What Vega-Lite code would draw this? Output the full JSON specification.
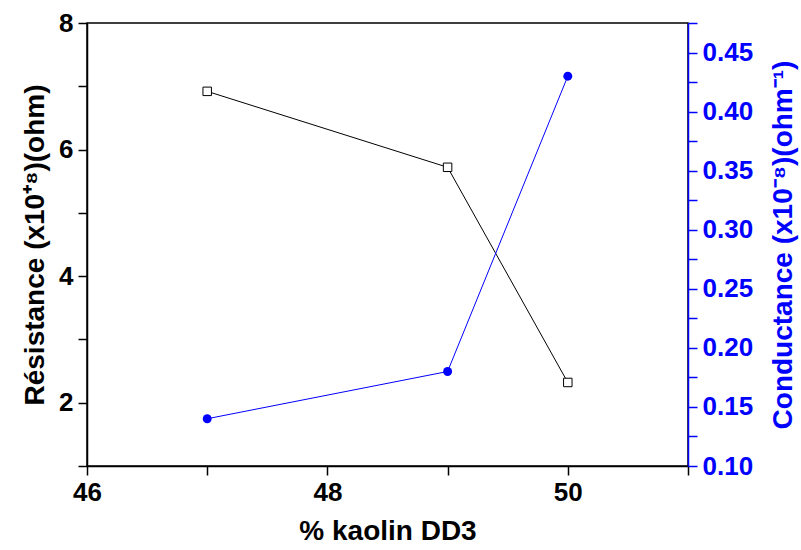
{
  "$schema": "https://vega.github.io/schema/vega-lite/v6.json",
  "width": 601,
  "height": 443,
  "autosize": {"type": "none"},
  "padding": {"left": 87, "top": 23, "right": 113, "bottom": 84},
  "background": "white",
  "config": {
    "view": {"stroke": "black", "strokeWidth": 1.5},
    "font": "Liberation Sans",
    "axis": {
      "labelFont": "Liberation Sans",
      "titleFont": "Liberation Sans",
      "labelFontWeight": "bold",
      "titleFontWeight": "bold",
      "labelFontSize": 26,
      "titleFontSize": 28,
      "grid": false,
      "domainWidth": 1.5,
      "tickWidth": 1.5,
      "tickSize": 9,
      "labelOverlap": false,
      "labelBound": false,
      "labelFlush": false
    }
  },
  "datasets": {
    "res": [
      {"kaolin": 47, "resistance": 6.92},
      {"kaolin": 49, "resistance": 5.72},
      {"kaolin": 50, "resistance": 2.32}
    ],
    "cond": [
      {"kaolin": 47, "conductance": 0.14},
      {"kaolin": 49, "conductance": 0.18},
      {"kaolin": 50, "conductance": 0.43}
    ]
  },
  "layer": [
    {
      "data": {"name": "res"},
      "encoding": {
        "x": {
          "field": "kaolin",
          "type": "quantitative",
          "scale": {"domain": [46, 51], "nice": false, "zero": false},
          "axis": {
            "values": [46, 47, 48, 49, 50, 51],
            "format": "d",
            "labelExpr": "datum.value % 2 == 0 ? datum.label : ''",
            "title": "% kaolin DD3",
            "titlePadding": 12,
            "labelPadding": 4,
            "domainColor": "black",
            "tickColor": "black",
            "labelColor": "black",
            "titleColor": "black",
            "encode": {"ticks": {"update": {"y2": {"signal": "datum.value % 2 ? 5 : 9"}}}}
          }
        },
        "y": {
          "field": "resistance",
          "type": "quantitative",
          "scale": {"domain": [1, 8], "nice": false, "zero": false},
          "axis": {
            "orient": "left",
            "values": [1, 2, 3, 4, 5, 6, 7, 8],
            "format": "d",
            "labelExpr": "datum.value % 2 == 0 ? datum.label : ''",
            "title": "Résistance (x10⁺⁸)(ohm)",
            "titlePadding": 9,
            "labelPadding": 5,
            "domainColor": "black",
            "tickColor": "black",
            "labelColor": "black",
            "titleColor": "black",
            "encode": {"ticks": {"update": {"x2": {"signal": "datum.value % 2 ? -5 : -9"}}}}
          }
        }
      },
      "layer": [
        {"mark": {"type": "line", "color": "black", "strokeWidth": 1}},
        {"mark": {"type": "point", "shape": "square", "filled": true, "fill": "white", "stroke": "black", "strokeWidth": 1, "size": 72, "opacity": 1}}
      ]
    },
    {
      "data": {"name": "cond"},
      "encoding": {
        "x": {"field": "kaolin", "type": "quantitative"},
        "y": {
          "field": "conductance",
          "type": "quantitative",
          "scale": {"domain": [0.1, 0.475], "nice": false, "zero": false},
          "axis": {
            "orient": "right",
            "values": [0.1, 0.125, 0.15, 0.175, 0.2, 0.225, 0.25, 0.275, 0.3, 0.325, 0.35, 0.375, 0.4, 0.425, 0.45, 0.475],
            "labelExpr": "round(datum.value * 1000) % 50 == 0 ? format(datum.value, '.2f') : ''",
            "title": "Conductance (x10⁻⁸)(ohm⁻¹)",
            "titleAngle": -90,
            "titleBaseline": "top",
            "titlePadding": 17,
            "labelPadding": 5,
            "domainColor": "#0000FF",
            "tickColor": "#0000FF",
            "labelColor": "#0000FF",
            "titleColor": "#0000FF",
            "encode": {"ticks": {"update": {"x2": {"signal": "round(datum.value * 1000) % 50 == 0 ? 9 : 5"}}}}
          }
        }
      },
      "layer": [
        {"mark": {"type": "line", "color": "#0000FF", "strokeWidth": 1}},
        {"mark": {"type": "point", "shape": "circle", "filled": true, "color": "#0000FF", "size": 80, "opacity": 1}}
      ]
    }
  ],
  "resolve": {"scale": {"y": "independent"}}
}
